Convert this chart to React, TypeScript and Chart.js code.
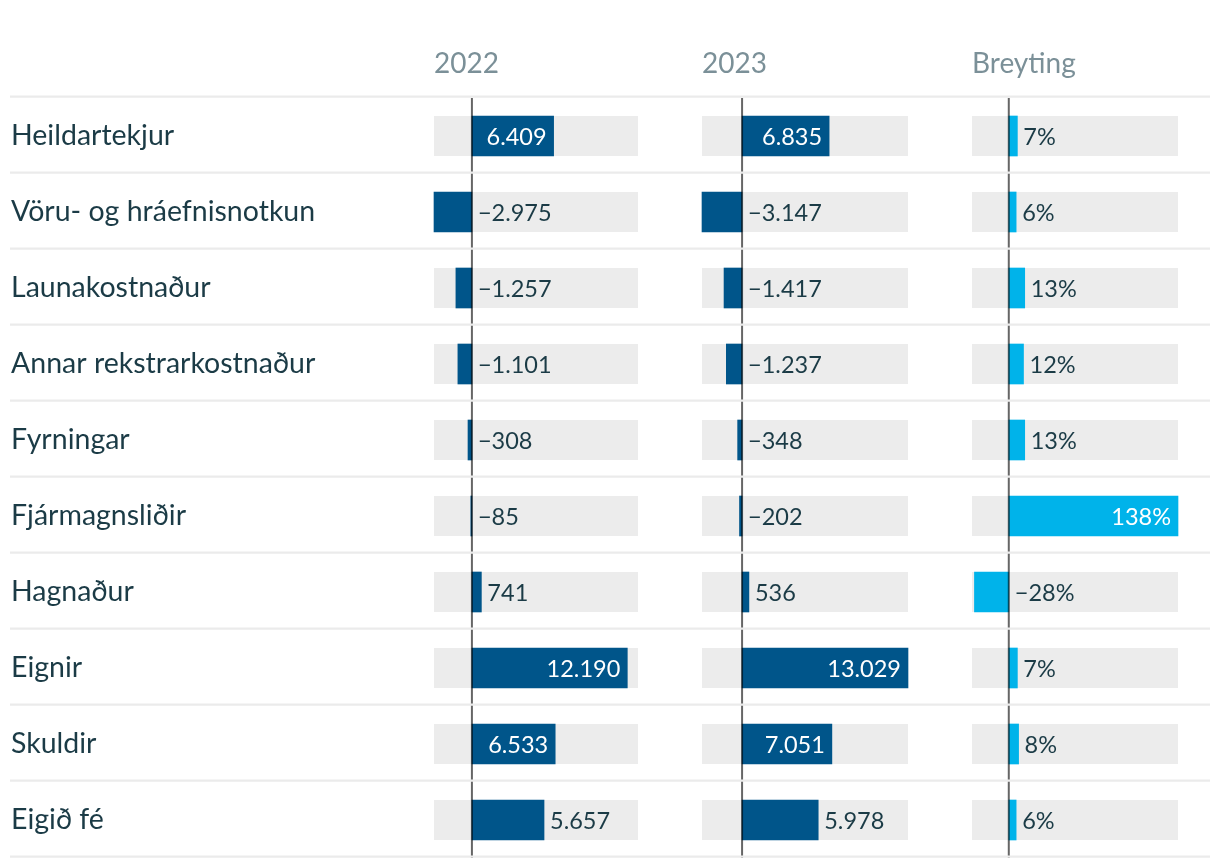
import React, { useEffect, useRef } from 'react';
import { Chart, registerables } from 'chart.js';

Chart.register(...registerables);

// ---------- data ----------
const categories = [
  'Heildartekjur',
  'Vöru- og hráefnisnotkun',
  'Launakostnaður',
  'Annar rekstrarkostnaður',
  'Fyrningar',
  'Fjármagnsliðir',
  'Hagnaður',
  'Eignir',
  'Skuldir',
  'Eigið fé',
];
const values2022 = [6409, -2975, -1257, -1101, -308, -85, 741, 12190, 6533, 5657];
const values2023 = [6835, -3147, -1417, -1237, -348, -202, 536, 13029, 7051, 5978];
const changePct = [7, 6, 13, 12, 13, 138, -28, 7, 8, 6];
const columnHeaders = ['2022', '2023', 'Breyting'];
const changeAxisMin = -30;

// ---------- styles ----------
const FONT = 'Lato, "Noto Sans", sans-serif';
const DARK_BLUE = '#00558a';
const LIGHT_BLUE = '#00b3ea';
const TEXT = '#1b3b46';
const HEADER = '#7b9098';
const BG = '#ececec';
const SEP = '#ebebeb';

const COLS = [
  { id: 'x2022', left: 434, right: 638 },
  { id: 'x2023', left: 702, right: 908 },
  { id: 'xChg', left: 972, right: 1178 },
];
const ROWS_TOP = 98;
const ROWS_BOTTOM = 858;

function fmtNum(v: number): string {
  const s = Math.abs(v).toString().replace(/\B(?=(\d{3})+(?!\d))/g, '.');
  return (v < 0 ? '\u2212' : '') + s;
}
function fmtPct(v: number): string {
  return (v < 0 ? '\u2212' : '') + Math.abs(v) + '%';
}
const formatters = [fmtNum, fmtNum, fmtPct];

const tablePlugin = {
  id: 'tablePlugin',
  afterLayout(chart: any) {
    COLS.forEach((c) => {
      const s = chart.scales[c.id];
      s.left = c.left;
      s.right = c.right;
      s.width = c.right - c.left;
      s.configure();
    });
    const y = chart.scales.y;
    y.top = ROWS_TOP;
    y.bottom = ROWS_BOTTOM;
    y.height = ROWS_BOTTOM - ROWS_TOP;
    y.configure();
    chart.chartArea.top = ROWS_TOP;
    chart.chartArea.bottom = ROWS_BOTTOM;
    chart.chartArea.height = ROWS_BOTTOM - ROWS_TOP;
  },
  beforeDatasetsDraw(chart: any) {
    const ctx = chart.ctx as CanvasRenderingContext2D;
    const yScale = chart.scales.y;
    ctx.save();
    ctx.fillStyle = BG;
    COLS.forEach((c) => {
      const s = chart.scales[c.id];
      categories.forEach((_, i) => {
        const py = yScale.getPixelForValue(i);
        ctx.fillRect(s.left, py - 20, s.right - s.left, 40);
      });
    });
    ctx.restore();
  },
  afterDatasetsDraw(chart: any) {
    const ctx = chart.ctx as CanvasRenderingContext2D;
    const yScale = chart.scales.y;
    ctx.save();

    // zero lines
    ctx.strokeStyle = 'rgba(0,0,0,0.6)';
    ctx.lineWidth = 2;
    COLS.forEach((c) => {
      const s = chart.scales[c.id];
      const x0 = s.getPixelForValue(0);
      ctx.beginPath();
      ctx.moveTo(x0, yScale.top);
      ctx.lineTo(x0, yScale.bottom);
      ctx.stroke();
    });

    // separators
    ctx.strokeStyle = SEP;
    ctx.lineWidth = 2.2;
    for (let k = 0; k <= categories.length; k++) {
      const py = yScale.getPixelForValue(k - 0.5) - 1.3;
      ctx.beginPath();
      ctx.moveTo(10, py);
      ctx.lineTo(1210, py);
      ctx.stroke();
    }

    // headers
    ctx.font = `28px ${FONT}`;
    ctx.fillStyle = HEADER;
    ctx.textAlign = 'left';
    ctx.textBaseline = 'middle';
    COLS.forEach((c, i) => {
      const s = chart.scales[c.id];
      ctx.fillText(columnHeaders[i], s.left, 64);
    });

    // value labels
    ctx.font = `23.5px ${FONT}`;
    chart.data.datasets.forEach((ds: any, di: number) => {
      const meta = chart.getDatasetMeta(di);
      meta.data.forEach((bar: any, i: number) => {
        const v = ds.data[i] as number;
        const txt = formatters[di](v);
        const w = ctx.measureText(txt).width;
        const { x, base, y } = bar.getProps(['x', 'base', 'y'], true);
        if (v >= 0 && x - base >= w + 20) {
          ctx.fillStyle = '#ffffff';
          ctx.textAlign = 'right';
          ctx.fillText(txt, x - 7, y + 1);
        } else {
          ctx.fillStyle = TEXT;
          ctx.textAlign = 'left';
          ctx.fillText(txt, Math.max(x, base) + 6, y + 1);
        }
      });
    });
    ctx.restore();
  },
};

export default function App() {
  const canvasRef = useRef<HTMLCanvasElement | null>(null);

  useEffect(() => {
    let chart: Chart | null = null;
    let cancelled = false;
    const make = () => {
      if (cancelled || !canvasRef.current) return;
      const max = Math.max(...values2022, ...values2023);
      chart = new Chart(canvasRef.current, {
        type: 'bar',
        data: {
          labels: categories,
          datasets: [
            { data: values2022, xAxisID: 'x2022', yAxisID: 'y', backgroundColor: DARK_BLUE },
            { data: values2023, xAxisID: 'x2023', yAxisID: 'y', backgroundColor: DARK_BLUE },
            { data: changePct, xAxisID: 'xChg', yAxisID: 'y', backgroundColor: LIGHT_BLUE },
          ] as any,
        },
        options: {
          indexAxis: 'y',
          responsive: false,
          animation: false,
          devicePixelRatio: 1,
          layout: { padding: { left: 11, right: 42, top: 98, bottom: 10 } },
          datasets: { bar: { grouped: false, barThickness: 40, borderWidth: 0, clip: false } } as any,
          plugins: { legend: { display: false }, tooltip: { enabled: false } },
          scales: {
            y: {
              type: 'category',
              position: 'left',
              offset: true,
              grid: { display: false },
              border: { display: false },
              ticks: {
                autoSkip: false,
                crossAlign: 'far',
                padding: 0,
                color: TEXT,
                font: { family: FONT, size: 28.5 },
              },
              afterFit: (s: any) => {
                s.width = 423;
              },
            },
            x2022: {
              type: 'linear',
              position: 'top',
              display: false,
              min: Math.min(...values2022),
              max,
            },
            x2023: {
              type: 'linear',
              position: 'top',
              display: false,
              min: Math.min(...values2023),
              max,
            },
            xChg: {
              type: 'linear',
              position: 'top',
              display: false,
              min: changeAxisMin,
              max: Math.max(...changePct),
            },
          } as any,
        },
        plugins: [tablePlugin as any],
      });
    };
    const fontsApi = (document as any).fonts;
    if (fontsApi && fontsApi.load) {
      Promise.all([fontsApi.load(`28px Lato`), fontsApi.load(`23px Lato`)])
        .catch(() => {})
        .then(make);
    } else {
      make();
    }
    return () => {
      cancelled = true;
      if (chart) chart.destroy();
    };
  }, []);

  return (
    <div style={{ position: 'absolute', left: 0, top: 0, width: 1220, height: 868, background: '#fff' }}>
      <canvas ref={canvasRef} width={1220} height={868} style={{ display: 'block' }} />
    </div>
  );
}
